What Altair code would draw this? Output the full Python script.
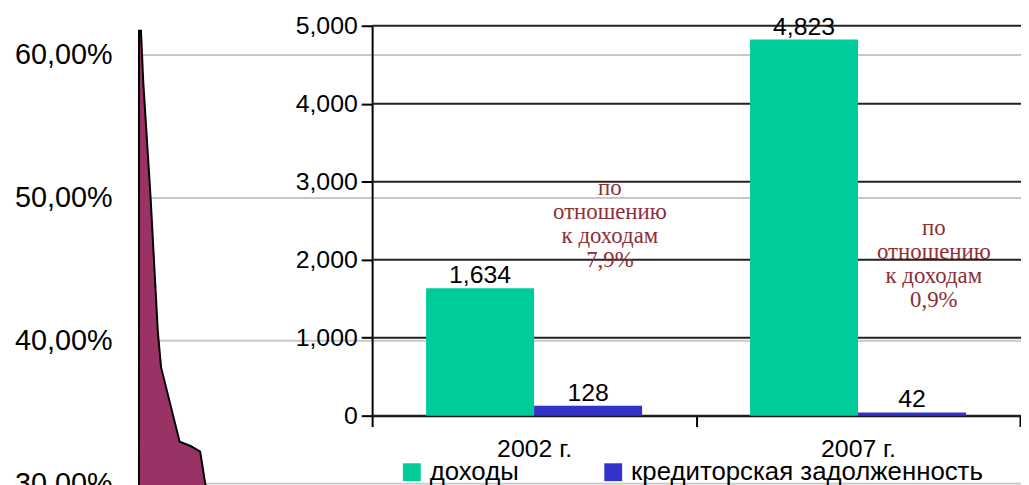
import altair as alt
import pandas as pd

# ---- background area chart (percent scale) ----
area_pos = [0, 2, 4.3, 11.7, 19, 22.3, 41, 52, 61.7, 66.7, 72]
area_pct = [61.67, 61.67, 58.1, 50.0, 40.6, 38.1, 32.9, 32.6, 32.2, 30.0, 28.6]
pct_ticks = [30, 40, 50, 60]

# ---- bar chart ----
years = ["2002 г.", "2007 г."]
series = ["доходы", "кредиторская задолженность"]
income = [1634, 4823]
payables = [128, 42]
bar_ticks = [0, 1000, 2000, 3000, 4000, 5000]
notes = ["по\nотношению\nк доходам\n7,9%", "по\nотношению\nк доходам\n0,9%"]
note_y = [2825, 2315]

W, H = 889, 477

area_df = pd.DataFrame({"pos": area_pos, "pct": area_pct})
bar_df = pd.DataFrame({
    "year": years * 2,
    "series": [series[0]] * 2 + [series[1]] * 2,
    "value": income + payables,
})
grid_df = pd.DataFrame({"tick": bar_ticks})
note_df = pd.DataFrame({"year": years, "series": [series[1]] * 2, "note": notes, "y": note_y})

area = alt.Chart(area_df).mark_area(
    color="#993366", stroke="#000000", strokeWidth=2, interpolate="linear"
).encode(
    x=alt.X("pos:Q", scale=alt.Scale(domain=[0, W], nice=False, zero=False), axis=None),
    y=alt.Y("pct:Q", scale=alt.Scale(domain=[30, 63.125], nice=False, zero=False),
            axis=alt.Axis(values=pct_ticks,
                          labelExpr="replace(format(datum.value, '.2f'), '.', ',') + '%'",
                          grid=True, gridColor="#C8C8C8", gridWidth=2,
                          ticks=False, domain=False, labelPadding=27,
                          labelFont="Liberation Sans", labelFontSize=29,
                          labelColor="#000000", title=None)),
    y2=alt.datum(0),
)

BAND = (888 - 235) / 2
xscale = alt.Scale(domain=years, range=[235, 888], paddingInner=0, paddingOuter=0)
yscale = alt.Scale(domain=[0, 5000], range=[409, 16], nice=False, zero=True)
xoff_bar = alt.XOffset("series:N", scale=alt.Scale(type="band", domain=series, range=[0, BAND],
                                                    paddingInner=0, paddingOuter=0.5))
xoff_txt = alt.XOffset("series:N", scale=alt.Scale(type="point", domain=series, range=[0, BAND],
                                                    padding=1))

grid = alt.Chart(grid_df).mark_rule(color="#222222", strokeWidth=2).encode(
    y=alt.Y("tick:Q", scale=yscale,
            axis=alt.Axis(orient="left", offset=-235, values=bar_ticks, format=",d",
                          domain=True, tickSize=11, tickWidth=2, tickColor="#000000",
                          domainWidth=2, domainColor="#000000",
                          labelPadding=4, labelFont="Liberation Sans", labelFontSize=25,
                          labelColor="#000000", grid=False, title=None)),
    x=alt.value(235),
    x2=alt.value(W),
)

bars = alt.Chart(bar_df).mark_bar().encode(
    x=alt.X("year:N", scale=xscale,
            axis=alt.Axis(orient="bottom", offset=-68, tickBand="extent", tickSize=11,
                          domain=True, tickWidth=2, tickColor="#000000", domainWidth=2,
                          domainColor="#000000", labelAngle=0, labelPadding=10,
                          labelFont="Liberation Sans", labelFontSize=25,
                          labelColor="#000000", title=None)),
    xOffset=xoff_bar,
    y=alt.Y("value:Q", scale=yscale, axis=None),
    color=alt.Color("series:N", scale=alt.Scale(domain=series, range=["#00CC99", "#3333CC"]),
                    legend=alt.Legend(orient="none", legendX=262, legendY=453,
                                      direction="horizontal", title=None,
                                      symbolType="square", symbolSize=324,
                                      symbolStrokeWidth=0, symbolOpacity=1,
                                      labelFont="Liberation Sans", labelFontSize=26,
                                      labelColor="#000000", labelOffset=5,
                                      columnPadding=82, padding=0, labelLimit=600)),
)

labels = alt.Chart(bar_df).mark_text(
    baseline="alphabetic", dy=-5, font="Liberation Sans", fontSize=25, color="#000000"
).encode(
    x=alt.X("year:N", scale=xscale, axis=None),
    xOffset=xoff_txt,
    y=alt.Y("value:Q", scale=yscale, axis=None),
    text=alt.Text("value:Q", format=",d"),
)

annots = alt.Chart(note_df).mark_text(
    lineBreak="\n", baseline="alphabetic", align="center", dx=22,
    font="Liberation Serif", fontSize=23, lineHeight=24, color="#8C2E36"
).encode(
    x=alt.X("year:N", scale=xscale, axis=None),
    xOffset=xoff_txt,
    y=alt.Y("y:Q", scale=yscale, axis=None),
    text="note:N",
)

chart = alt.layer(area, grid, bars, labels, annots).resolve_scale(
    x="independent", y="independent", xOffset="independent"
).properties(
    width=W, height=H,
    padding={"left": 132, "top": 0, "right": 0, "bottom": 0},
    autosize=alt.AutoSizeParams(type="none"),
    view=alt.ViewBackground(strokeWidth=0, strokeOpacity=0),
).configure_view(strokeWidth=0, strokeOpacity=0).configure_axis(domain=False).configure(background="#ffffff")

chart.save("out.html", embed_options={"renderer": "svg", "actions": False})
